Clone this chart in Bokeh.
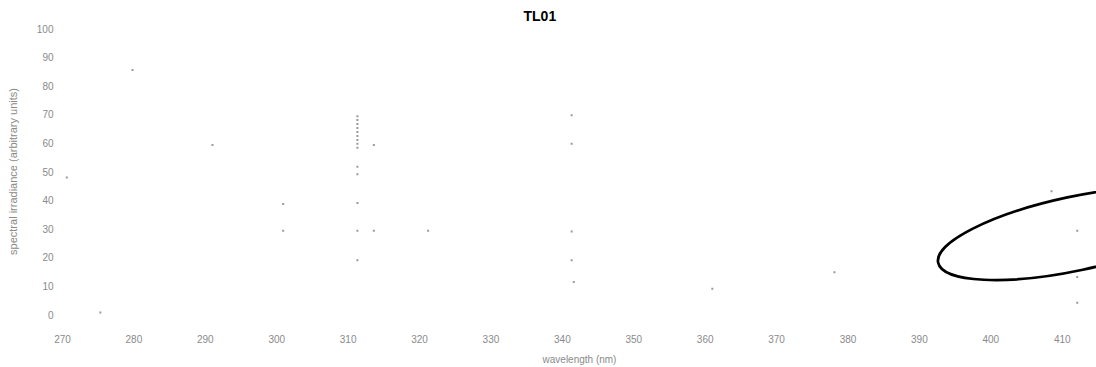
from bokeh.plotting import figure
from bokeh.models import Range1d
from bokeh.embed import file_html
from bokeh.resources import INLINE

# --- data ---
x_ticks = [270, 280, 290, 300, 310, 320, 330, 340, 350, 360, 370, 380, 390, 400, 410]
y_ticks = [0, 10, 20, 30, 40, 50, 60, 70, 80, 90, 100]

# faint remaining specks of the scanned trace
trace_wl = [311.3, 311.3, 311.3, 311.3, 311.3, 311.3, 311.3, 311.3, 311.3,
            311.3, 311.3, 311.3, 311.3, 311.3,
            313.6, 313.6, 321.2,
            341.3, 341.3, 341.3, 341.3, 341.6,
            361.0, 378.1, 279.8, 291.0, 270.6, 300.9, 300.9,
            412.1, 412.1, 412.1, 408.5, 275.3]
trace_val = [69.3, 68.0, 66.6, 65.2, 63.8, 62.4, 61.0, 59.7, 58.3,
             51.7, 49.0, 39.0, 29.3, 19.0,
             59.3, 29.3, 29.3,
             69.7, 59.7, 29.0, 19.0, 11.4,
             9.0, 14.8, 85.5, 59.3, 47.9, 38.6, 29.3,
             29.3, 13.1, 4.1, 43.1, 0.7]

# hand-drawn ellipse annotation (centre, in data units)
ell_x = [411.8]
ell_y = [28.3]

FONT = "Liberation Sans"
GREY = "#8a8a8a"

p = figure(width=1096, height=367,
           x_range=Range1d(270, 414.8), y_range=Range1d(0, 100),
           output_backend="svg", toolbar_location=None,
           min_border_left=62, min_border_right=0,
           min_border_top=25, min_border_bottom=52,
           background_fill_color="white", border_fill_color="white")

p.title.text = "TL01"
p.title.align = "left"
p.title.offset = 461
p.title.text_font = FONT
p.title.text_font_size = "14px"
p.title.text_font_style = "bold"
p.title.text_color = "black"

p.outline_line_color = None
p.xgrid.grid_line_color = None
p.ygrid.grid_line_color = None

p.xaxis.ticker = x_ticks
p.yaxis.ticker = y_ticks
p.xaxis.axis_label = "wavelength (nm)"
p.yaxis.axis_label = "spectral irradiance (arbitrary units)"

for ax in (p.xaxis, p.yaxis):
    ax.axis_line_color = None
    ax.major_tick_line_color = None
    ax.minor_tick_line_color = None
    ax.major_label_text_color = GREY
    ax.major_label_text_font = FONT
    ax.major_label_text_font_size = "10px"
    ax.axis_label_text_color = GREY
    ax.axis_label_text_font = FONT
    ax.axis_label_text_font_style = "normal"

p.xaxis.axis_label_text_font_size = "10px"
p.yaxis.axis_label_text_font_size = "11px"

p.xaxis.major_label_standoff = 14
p.xaxis.axis_label_standoff = 8
p.yaxis.major_label_standoff = 3
p.yaxis.axis_label_standoff = 15

p.scatter(trace_wl, trace_val, marker="square", size=2,
          fill_color="#9a9a9a", line_color=None)

p.ellipse(x=ell_x, y=ell_y, width=280, height=74, angle=0.21,
          width_units="screen", height_units="screen",
          fill_color=None, line_color="black", line_width=2.7)

open("out.html", "w").write(file_html(p, INLINE))
